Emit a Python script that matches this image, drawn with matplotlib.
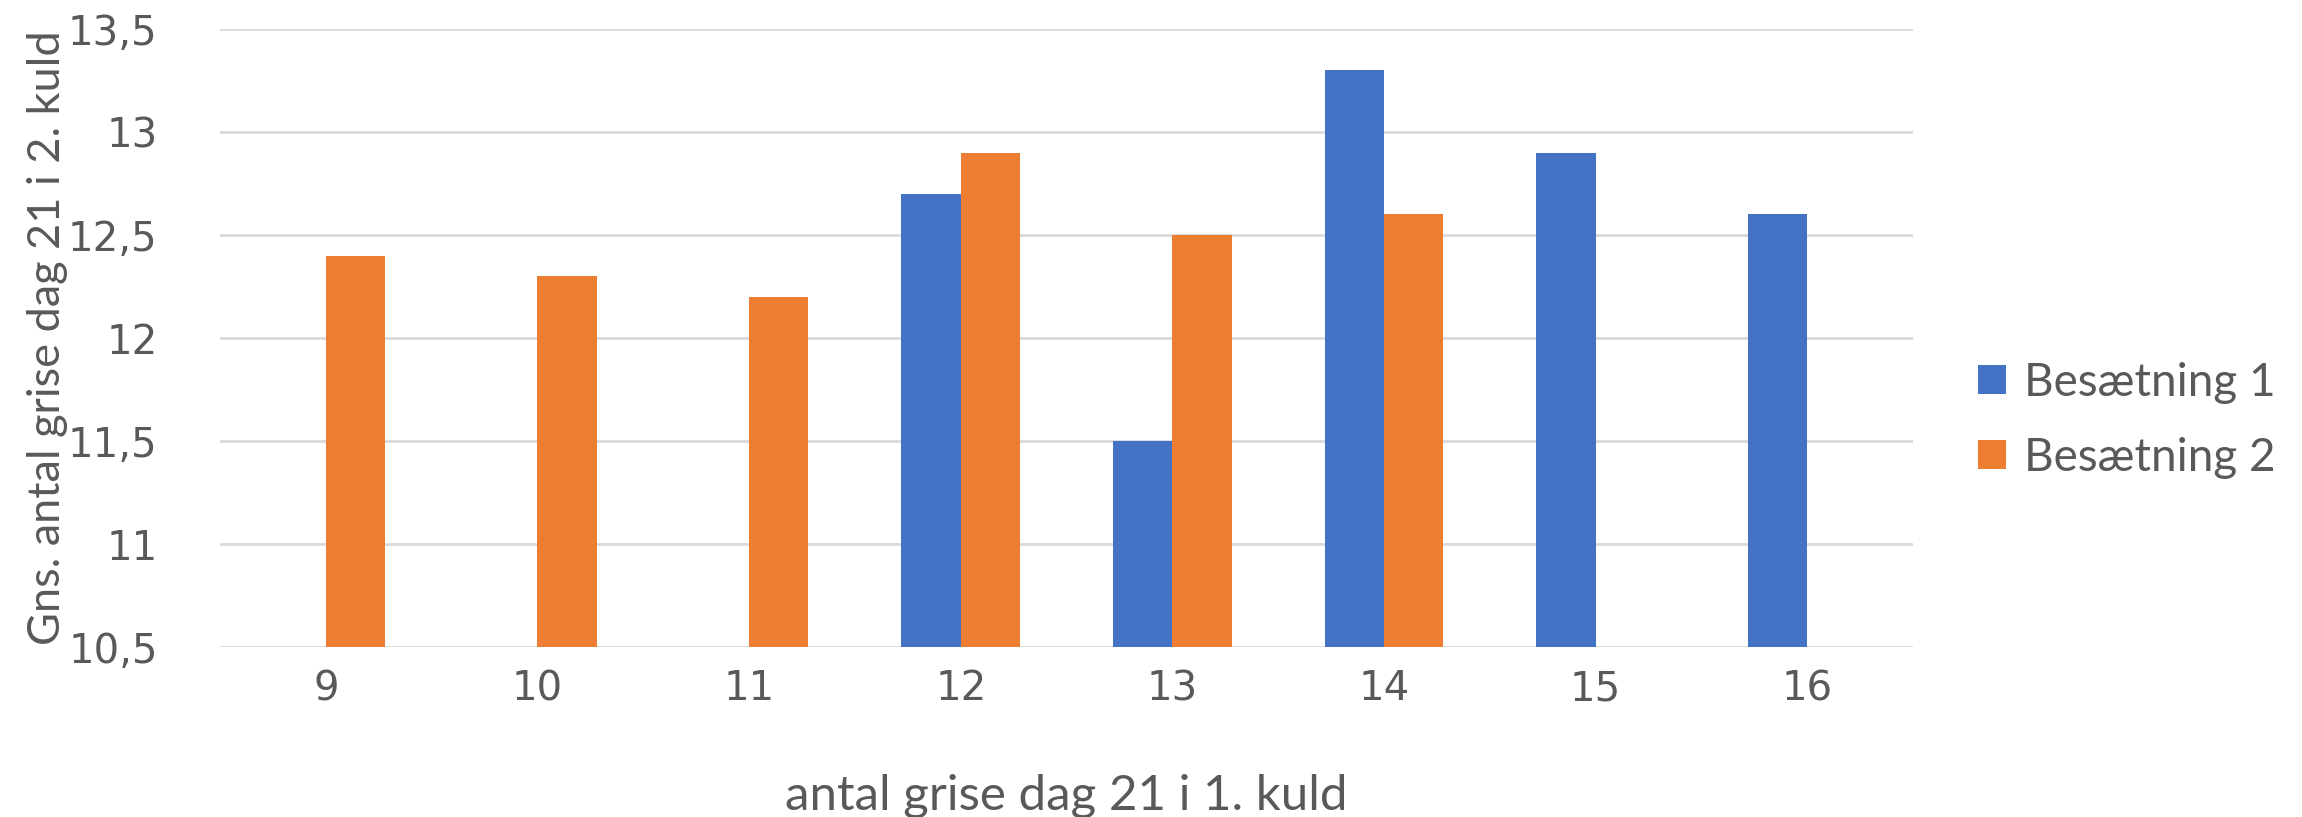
import numpy as np
import matplotlib
matplotlib.use("Agg")
import matplotlib.pyplot as plt

categories = ["9", "10", "11", "12", "13", "14", "15", "16"]
besaetning_1 = [np.nan, np.nan, np.nan, 12.7, 11.5, 13.3, 12.9, 12.6]
besaetning_2 = [12.4, 12.3, 12.2, 12.9, 12.5, 12.6, np.nan, np.nan]
y_ticks = [10.5, 11, 11.5, 12, 12.5, 13, 13.5]
y_tick_labels = ["10,5", "11", "11,5", "12", "12,5", "13", "13,5"]

text_col = "#595959"
blue = "#4472C4"
orange = "#ED7D31"

fig = plt.figure(figsize=(23.02, 8.17), dpi=100)
ax = fig.add_axes([0.0956, 0.208, 0.7354, 0.7565])

x = np.arange(len(categories))
w = 0.28
ax.bar(x - w / 2, besaetning_1, w, color=blue, label="Besætning 1")
ax.bar(x + w / 2, besaetning_2, w, color=orange, label="Besætning 2")

ax.set_ylim(10.5, 13.5)
ax.set_xlim(-0.5, len(categories) - 0.5)
ax.set_yticks(y_ticks)
ax.set_yticklabels(y_tick_labels)
ax.set_xticks(x)
ax.set_xticklabels(categories)
ax.tick_params(axis="both", length=0, labelsize=29, colors=text_col)
ax.tick_params(axis="y", pad=45)
ax.tick_params(axis="x", pad=16)

ax.grid(axis="y", color="#D9D9D9", linewidth=2)
ax.set_axisbelow(True)
for s in ax.spines.values():
    s.set_visible(False)

ax.set_ylabel("Gns. antal grise dag 21 i 2. kuld", fontsize=32.5, color=text_col,
              family=["Lato", "DejaVu Sans"])
ax.yaxis.set_label_coords(-0.09, 0.5)
ax.set_xlabel("antal grise dag 21 i 1. kuld", fontsize=35.5, color=text_col,
              family=["Lato", "DejaVu Sans"])
ax.xaxis.set_label_coords(0.5, -0.205)

leg = fig.legend(loc="upper left", bbox_to_anchor=(0.8415, 0.608), frameon=False,
                 prop={"family": ["Lato", "DejaVu Sans"], "size": 33},
                 handlelength=0.6, handleheight=0.6, handletextpad=0.4,
                 labelspacing=0.72)
for t in leg.get_texts():
    t.set_color(text_col)

fig.savefig("out.png", dpi=100)
